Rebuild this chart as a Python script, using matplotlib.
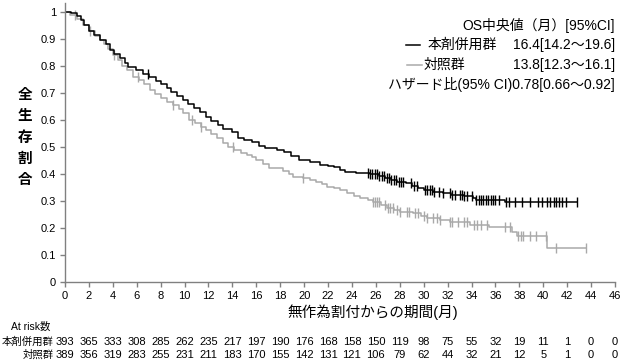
import numpy as np
import matplotlib
matplotlib.use("Agg")
import matplotlib.pyplot as plt
from matplotlib.lines import Line2D

plt.rcParams['font.family'] = ['Liberation Sans', 'Noto Sans CJK JP', 'DejaVu Sans']

# step points (month, survival)
t_combo = [0, 0.5, 1.0, 1.3, 1.6, 2.0, 2.4, 2.9, 3.4, 3.8, 4.1, 4.6, 5.0, 5.3, 5.9, 6.5, 7.0, 7.6,
           8.0, 8.5, 8.9, 9.4, 9.9, 10.3, 10.8, 11.3, 11.8, 12.2, 12.8, 13.2, 14.0, 14.5, 15.0,
           15.6, 16.2, 16.7, 17.7, 18.3, 18.9, 19.6, 20.5, 21.3, 22.0, 22.5, 23.0, 23.4, 24.3,
           25.5, 26.3, 26.8, 27.3, 27.8, 28.5, 29.0, 29.5, 30.0, 30.8, 31.6, 32.3, 33.4, 34.1,
           34.4, 36.8]
s_combo = [1.0, 0.995, 0.985, 0.97, 0.952, 0.93, 0.915, 0.898, 0.88, 0.86, 0.845, 0.83, 0.81,
           0.795, 0.785, 0.772, 0.758, 0.745, 0.735, 0.72, 0.703, 0.69, 0.674, 0.66, 0.644, 0.628,
           0.612, 0.598, 0.582, 0.565, 0.556, 0.535, 0.525, 0.518, 0.505, 0.495, 0.489, 0.48,
           0.468, 0.452, 0.446, 0.435, 0.43, 0.425, 0.415, 0.407, 0.403, 0.400, 0.394, 0.385,
           0.378, 0.371, 0.365, 0.357, 0.35, 0.34, 0.333, 0.328, 0.322, 0.318, 0.31, 0.304, 0.296]
end_combo = 42.8
cens_combo = [6.97, 25.3, 25.5, 25.7, 25.9, 26.1, 26.3, 26.5, 26.7, 26.9, 27.1, 27.3, 27.5, 27.7,
              27.9, 28.1, 28.3, 28.9, 29.2, 29.4, 30.1, 30.3, 30.5, 30.7, 30.9, 31.3, 31.6, 32.2,
              32.4, 32.6, 33.0, 33.2, 33.4, 33.6, 34.0, 34.4, 34.6, 34.8, 35.0, 35.2, 35.4, 35.6,
              35.8, 36.0, 36.3, 36.9, 37.1, 37.6, 38.2, 38.9, 39.6, 39.9, 40.3, 40.6, 40.9, 41.1,
              41.3, 41.6, 41.9, 42.8]

t_ctrl = [0, 0.4, 1.0, 1.5, 2.0, 2.5, 2.9, 3.3, 3.6, 4.0, 4.4, 4.8, 5.2, 5.7, 6.2, 6.6, 7.1, 7.5,
          8.0, 8.5, 9.0, 9.5, 9.9, 10.4, 10.9, 11.4, 11.8, 12.2, 12.7, 13.2, 13.6, 14.1, 14.7,
          15.2, 15.6, 16.0, 16.6, 17.1, 18.2, 18.7, 19.1, 19.9, 20.5, 21.0, 21.5, 21.9, 22.5,
          23.0, 23.6, 24.2, 24.7, 25.3, 25.8, 26.4, 26.9, 27.5, 28.0, 29.1, 29.8, 30.25, 31.4,
          32.2, 33.9, 35.5, 37.4, 37.8, 40.3]
s_ctrl = [1.0, 0.99, 0.975, 0.952, 0.93, 0.912, 0.898, 0.88, 0.862, 0.84, 0.822, 0.80, 0.785,
          0.76, 0.748, 0.735, 0.712, 0.695, 0.68, 0.665, 0.655, 0.64, 0.626, 0.60, 0.588, 0.575,
          0.562, 0.55, 0.532, 0.514, 0.50, 0.489, 0.478, 0.47, 0.462, 0.452, 0.438, 0.422, 0.41,
          0.40, 0.39, 0.385, 0.378, 0.371, 0.362, 0.353, 0.348, 0.34, 0.33, 0.32, 0.311, 0.303,
          0.297, 0.285, 0.274, 0.266, 0.26, 0.255, 0.245, 0.237, 0.23, 0.222, 0.211, 0.203, 0.186,
          0.172, 0.126]
end_ctrl = 43.6
cens_ctrl = [0.8, 2.1, 4.1, 6.1, 9.0, 10.6, 11.4, 14.05, 19.9, 25.8, 25.95, 26.1, 26.3, 26.8, 27.0,
             27.2, 27.4, 27.8, 28.0, 28.6, 28.8, 29.3, 29.5, 30.0, 30.3, 30.8, 31.1, 31.4, 32.2,
             32.4, 32.9, 33.4, 33.6, 34.2, 34.5, 34.8, 35.3, 36.8, 37.2, 37.9, 38.1, 38.3, 38.9,
             39.4, 40.2, 41.1, 43.6]

risk_times = list(range(0, 47, 2))
risk_combo = [393, 365, 333, 308, 285, 262, 235, 217, 197, 190, 176, 168, 158, 150, 119, 98, 75,
              55, 32, 19, 11, 1, 0, 0]
risk_ctrl = [389, 356, 319, 283, 255, 231, 211, 183, 170, 155, 142, 131, 121, 106, 79, 62, 44,
             32, 21, 12, 5, 1, 0, 0]

BLACK = '#000000'
GRAY = '#a9a9a9'
W, H = 629, 361


def fx(px):
    return px / W


def fy(py):
    return 1 - py / H


def km(ax, t, s, end, cens, color):
    tt = np.array(t + [end])
    ss = np.array(s + [s[-1]])
    ax.step(tt, ss, where='post', color=color, lw=1.1)
    c = np.array(cens)
    idx = np.searchsorted(np.array(t), c, side='right') - 1
    ax.plot(c, np.array(s)[idx], ls='none', marker='|', ms=6.5, mew=1.0, color=color)


fig = plt.figure(figsize=(6.29, 3.61), dpi=100)
ax = fig.add_axes([fx(65), fy(282), fx(615) - fx(65), 1.035 * 270 / H])

km(ax, t_ctrl, s_ctrl, end_ctrl, cens_ctrl, GRAY)
km(ax, t_combo, s_combo, end_combo, cens_combo, BLACK)

ax.set_xlim(0, 46)
ax.set_ylim(0, 1.035)
ax.set_xticks(risk_times)
ax.set_yticks(np.arange(0, 1.01, 0.1))
ax.set_yticklabels(['0'] + ['%.1f' % v for v in np.arange(0.1, 0.95, 0.1)] + ['1'])
for sp in ['top', 'right']:
    ax.spines[sp].set_visible(False)
for sp in ['left', 'bottom']:
    ax.spines[sp].set_color('#808080')
    ax.spines[sp].set_linewidth(1.0)
ax.tick_params(colors='#808080', labelcolor='black', labelsize=8, length=3.5, width=1.0, pad=3)

# axis labels
fig.text(fx(373), fy(312), '無作為割付からの期間(月)', ha='center', va='center', fontsize=10.5)
for i, ch in enumerate('全生存割合'):
    fig.text(fx(25), fy(95 + i * 21.3), ch, ha='center', va='center', fontsize=10.5,
             fontweight='bold')

# legend block
fig.text(fx(615), fy(25), 'OS中央値（月）[95%CI]', ha='right', va='center', fontsize=10)
fig.add_artist(Line2D([fx(406), fx(420)], [fy(45), fy(45)], color=BLACK, lw=1.1))
fig.text(fx(428), fy(45), '本剤併用群', ha='left', va='center', fontsize=10)
fig.text(fx(615), fy(45), '16.4[14.2～19.6]', ha='right', va='center', fontsize=10)
fig.add_artist(Line2D([fx(407), fx(422)], [fy(65), fy(65)], color=GRAY, lw=1.1))
fig.text(fx(424), fy(65), '対照群', ha='left', va='center', fontsize=10)
fig.text(fx(615), fy(65), '13.8[12.3～16.1]', ha='right', va='center', fontsize=10)
fig.text(fx(615), fy(85), 'ハザード比(95% CI)0.78[0.66～0.92]', ha='right', va='center',
         fontsize=10)

# number at risk
tr = ax.get_xaxis_transform()
fig.text(fx(31), fy(327), 'At risk数', ha='center', va='center', fontsize=7.5)
fig.text(fx(54), fy(342), '本剤併用群', ha='right', va='center', fontsize=7.5)
fig.text(fx(54), fy(355), '対照群', ha='right', va='center', fontsize=7.5)
for x, a, b in zip(risk_times, risk_combo, risk_ctrl):
    ax.annotate(str(a), (x, 0), xycoords=tr, xytext=(0, -60), textcoords='offset pixels',
                ha='center', va='center', fontsize=8, annotation_clip=False)
    ax.annotate(str(b), (x, 0), xycoords=tr, xytext=(0, -73), textcoords='offset pixels',
                ha='center', va='center', fontsize=8, annotation_clip=False)

fig.savefig('out.png', dpi=100)
